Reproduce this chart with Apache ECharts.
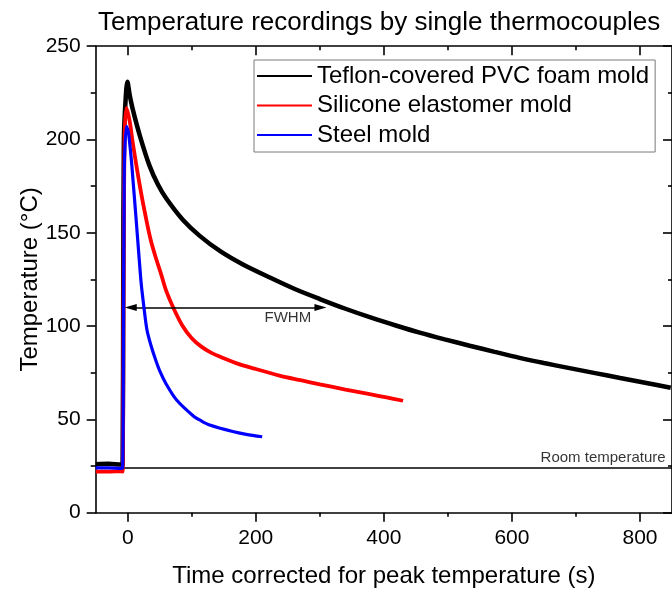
<!DOCTYPE html>
<html><head><meta charset="utf-8">
<script src="https://cdn.jsdelivr.net/npm/echarts@6/dist/echarts.min.js"></script>
<style>html,body{margin:0;padding:0;background:#fff}#c{width:672px;height:589px}</style>
</head><body><div id="c"></div>
<script>
// ---- data ----
const titleText = 'Temperature recordings by single thermocouples';
const seriesNames = ['Teflon-covered PVC foam mold', 'Silicone elastomer mold', 'Steel mold'];
const xMajorTicks = [0, 200, 400, 600, 800];
const xMinorTicks = [100, 300, 500, 700];

const teflonT = [-50, -30, -10, -8, -7, -6, -3, -0.5, 3, 8, 19, 34, 47, 60, 86, 112, 145, 180, 222, 260, 300, 340, 378, 420, 456, 495, 534, 573, 612, 650, 690, 730, 769, 810, 848];
const teflonV = [26, 26.2, 25.8, 26, 120, 200, 223, 231, 224, 216, 202, 186, 176, 168.5, 157, 148.5, 140, 133, 126, 120, 114.5, 109.3, 104.8, 100.2, 96.5, 92.9, 89.5, 86.2, 83, 80.2, 77.5, 74.8, 72.2, 69.5, 67];

const siliconeT = [-50, -30, -10, -8, -6.5, -5, -2, 3, 8, 19, 29, 36, 44, 52, 60, 71, 85, 100, 115, 130, 150, 175, 200, 237, 270, 300, 340, 378, 404, 430];
const siliconeV = [22, 22, 22.2, 22, 120, 200, 217, 210, 198, 175, 157, 146, 136.5, 128, 119, 110, 100.5, 93.5, 89, 85.8, 82.8, 79.5, 77, 73.5, 71, 68.8, 66, 63.5, 61.8, 60];

const steelT = [-50, -30, -10, -8, -7, -5.5, -2, 1, 5.7, 9, 12.5, 17.7, 21, 25, 30, 36, 43, 50, 60, 76, 102, 115, 128, 164, 185, 210];
const steelV = [24, 24, 23.8, 24, 60, 180, 207, 204, 189, 175, 160, 137, 123, 111, 98, 90, 82.5, 76, 69, 60.5, 52, 49.2, 47, 43.5, 42, 40.7];

const roomTemp = 24;
// FWHM double arrow (line end points; the arrow heads extend slightly past them)
const fwhmStart = [4.7, 110];
const fwhmEnd = [301, 110];
const fwhmLabelPos = [250, 104.4];
const roomLabelPos = [840, 29.6];

// ---- chart ----
const FONT = '"Liberation Sans", Arial, Helvetica, sans-serif';
const zip = (t, v) => t.map((x, i) => [x, v[i]]);
const axisLineStyle = {color: '#000', width: 1.6};

const chart = echarts.init(document.getElementById('c'), null, {renderer: 'canvas'});
const xBase = {type: 'value', min: -50, max: 850, splitLine: {show: false}};
const yBase = {type: 'value', min: 0, max: 250, interval: 50, splitLine: {show: false}};

chart.setOption({
  animation: false,
  backgroundColor: '#fff',
  textStyle: {fontFamily: FONT},
  title: {
    text: titleText, left: 98, top: 10, padding: 0,
    textStyle: {fontFamily: FONT, fontSize: 26, fontWeight: 'normal', color: '#000'}
  },
  grid: {left: 95.7, top: 46.2, right: 0, bottom: 76.3, containLabel: false, outerBoundsMode: 'none'},
  legend: {
    data: seriesNames, orient: 'vertical', left: 254, top: 60,
    padding: [4, 6, 5, 3], itemGap: 5.5, itemWidth: 55, itemHeight: 2, icon: 'rect',
    borderColor: '#7a7a7a', borderWidth: 1, backgroundColor: '#fff', selectedMode: false,
    textStyle: {fontFamily: FONT, fontSize: 24, color: '#000'}
  },
  xAxis: [
    Object.assign({}, xBase, {
      position: 'bottom',
      axisLine: {show: true, onZero: false, lineStyle: axisLineStyle},
      axisTick: {show: true, length: 9, customValues: xMajorTicks, lineStyle: axisLineStyle},
      axisLabel: {show: true, customValues: xMajorTicks, fontSize: 21, color: '#000', margin: 15, fontFamily: FONT},
      name: 'Time corrected for peak temperature (s)', nameLocation: 'middle', nameGap: 52,
      nameMoveOverlap: false,
      nameTextStyle: {fontSize: 24, color: '#000', fontFamily: FONT}
    }),
    Object.assign({}, xBase, {
      position: 'bottom',
      axisLine: {show: false, onZero: false},
      axisTick: {show: true, length: 4, customValues: xMinorTicks, lineStyle: axisLineStyle},
      axisLabel: {show: false}
    }),
    Object.assign({}, xBase, {
      position: 'top',
      axisLine: {show: true, onZero: false, lineStyle: axisLineStyle},
      axisTick: {show: true, inside: true, length: 9, customValues: xMajorTicks, lineStyle: axisLineStyle},
      axisLabel: {show: false}
    }),
    Object.assign({}, xBase, {
      position: 'top',
      axisLine: {show: false, onZero: false},
      axisTick: {show: true, inside: true, length: 4, customValues: xMinorTicks, lineStyle: axisLineStyle},
      axisLabel: {show: false}
    })
  ],
  yAxis: [
    Object.assign({}, yBase, {
      position: 'left',
      axisLine: {show: true, onZero: false, lineStyle: axisLineStyle},
      axisTick: {show: true, length: 9, lineStyle: axisLineStyle},
      minorTick: {show: true, splitNumber: 2, length: 5, lineStyle: axisLineStyle},
      axisLabel: {fontSize: 21, color: '#000', margin: 15, fontFamily: FONT},
      name: 'Temperature (°C)', nameLocation: 'middle', nameGap: 53,
      nameMoveOverlap: false,
      nameTextStyle: {fontSize: 24, color: '#000', fontFamily: FONT}
    }),
    Object.assign({}, yBase, {
      position: 'right',
      axisLine: {show: true, onZero: false, lineStyle: axisLineStyle},
      axisTick: {show: true, inside: true, length: 9, lineStyle: axisLineStyle},
      minorTick: {show: true, splitNumber: 2, length: 4, lineStyle: axisLineStyle},
      axisLabel: {show: false}
    })
  ],
  series: [
    {
      name: seriesNames[0], type: 'line', data: zip(teflonT, teflonV),
      showSymbol: false, symbol: 'none', smooth: 0.3,
      color: '#000', lineStyle: {color: '#000', width: 4.5}, z: 3
    },
    {
      name: seriesNames[1], type: 'line', data: zip(siliconeT, siliconeV),
      showSymbol: false, symbol: 'none', smooth: 0.3,
      color: '#ff0000', lineStyle: {color: '#ff0000', width: 3.8}, z: 4
    },
    {
      name: seriesNames[2], type: 'line', data: zip(steelT, steelV),
      showSymbol: false, symbol: 'none', smooth: 0.3,
      color: '#0000ff', lineStyle: {color: '#0000ff', width: 3.2}, z: 5
    },
    {
      name: 'room', type: 'line', data: [[-50, roomTemp], [850, roomTemp]],
      showSymbol: false, symbol: 'none', silent: true,
      lineStyle: {color: '#000', width: 1.5}, z: 2,
      markLine: {
        silent: true, symbol: ['triangle', 'triangle'], symbolSize: [7, 12],
        label: {show: false},
        lineStyle: {color: '#000', width: 1.5, type: 'solid'},
        itemStyle: {color: '#000'},
        data: [[{coord: fwhmStart}, {coord: fwhmEnd}]]
      }
    },
    {
      name: 'annotations', type: 'scatter', symbolSize: 0, silent: true, z: 6,
      label: {show: true, color: '#000', fontFamily: FONT, fontSize: 15, position: [0, 0], verticalAlign: 'middle'},
      data: [
        {value: fwhmLabelPos, label: {formatter: 'FWHM', align: 'center'}},
        {value: roomLabelPos, label: {formatter: 'Room temperature', align: 'right'}}
      ]
    }
  ]
});
</script></body></html>
